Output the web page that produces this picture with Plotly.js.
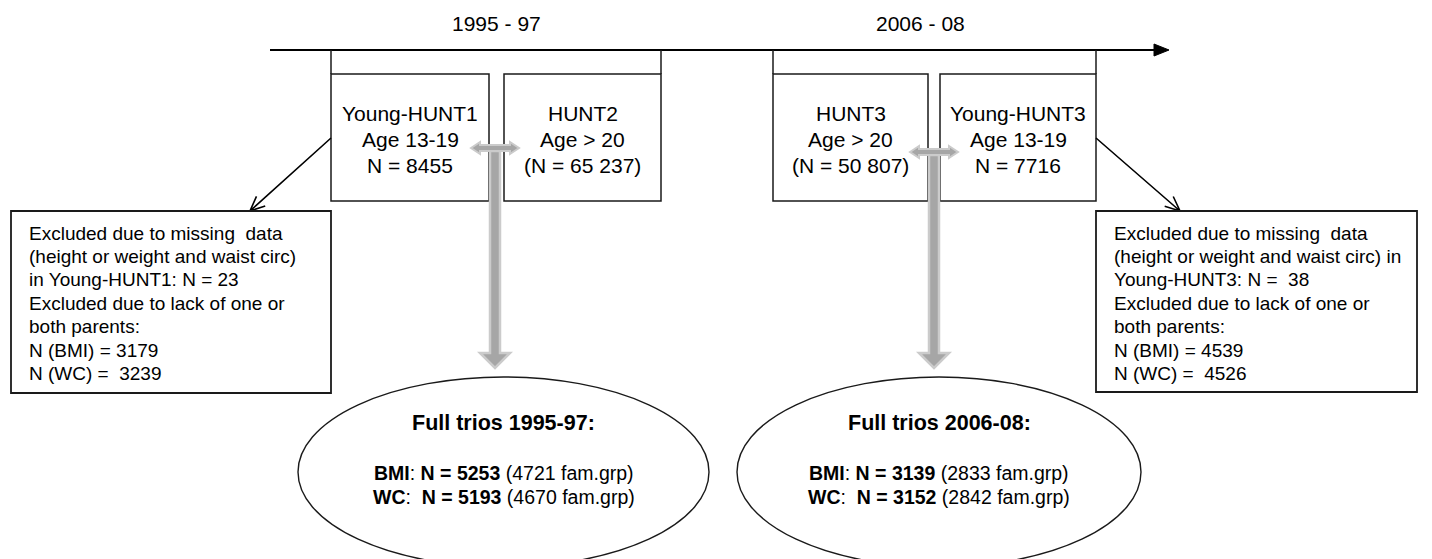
<!DOCTYPE html>
<html>
<head>
<meta charset="utf-8">
<script src="https://cdn.plot.ly/plotly-3.0.1.min.js"></script>
<style>html,body{margin:0;padding:0;background:#fff;}#chart{width:1432px;height:559px;}</style>
</head>
<body>
<div id="chart"></div>
<script>
// ---------- data (text and values) ----------
const periods = ['1995 - 97', '2006 - 08'];
const cohorts = ['Young-HUNT1', 'HUNT2', 'HUNT3', 'Young-HUNT3'];
const ages = ['Age 13-19', 'Age > 20', 'Age > 20', 'Age 13-19'];
const cohortN = ['N = 8455', '(N = 65 237)', '(N = 50 807)', 'N = 7716'];
const youngStudies = ['Young-HUNT1', 'Young-HUNT3'];
const excludedMissing = [23, 38];
const excludedBMI = [3179, 4539];
const excludedWC = [3239, 4526];
const trioPeriods = ['1995-97', '2006-08'];
const triosBMI = [5253, 3139];
const triosBMIfam = [4721, 2833];
const triosWC = [5193, 3152];
const triosWCfam = [4670, 2842];

// ---------- layout geometry (pixels) ----------
const W = 1432, H = 559;
const FONT = 'Liberation Sans, Arial, Helvetica, sans-serif';
const periodX = [496, 920];
const boxX = [[331, 489], [504, 661], [773, 928], [940, 1096]];
const boxY = [74, 201];
const boxLineY = [113, 139, 165];
const exclBox = [[11, 211, 331, 393], [1096, 211, 1417, 392]];
const exclTextX = [27, 1112];
const exclLineY0 = 233, exclLineDy = 23.4;
const ellX = [[298, 709], [737, 1141]];
const ellY = [377, 567];
const ellTextY = [423, 473, 497];
const grayX = [495, 934];
const grayHY = [148, 152];

const shapes = [];
const annotations = [];
const ink = '#1a1a1a';

// timeline
shapes.push({type: 'line', x0: 270, y0: 50, x1: 1156, y1: 50, line: {color: '#000', width: 2}});
shapes.push({type: 'path', path: 'M1154,44 L1169,50 L1154,56 Z', fillcolor: '#000', line: {color: '#000', width: 1}});
// brackets
[[boxX[0][0], boxX[1][1]], [boxX[2][0], boxX[3][1]]].forEach(function (b) {
  shapes.push({type: 'line', x0: b[0], y0: 50, x1: b[0], y1: boxY[0], line: {color: ink, width: 1.5}});
  shapes.push({type: 'line', x0: b[1], y0: 50, x1: b[1], y1: boxY[0], line: {color: ink, width: 1.5}});
});
// period labels
periods.forEach(function (p, i) {
  annotations.push({x: periodX[i], y: 23, text: p, showarrow: false, xanchor: 'center', yanchor: 'middle',
    font: {family: FONT, size: 21, color: '#000'}});
});
// cohort boxes
cohorts.forEach(function (c, i) {
  const bx = boxX[i];
  shapes.push({type: 'rect', x0: bx[0], y0: boxY[0], x1: bx[1], y1: boxY[1], fillcolor: '#fff', line: {color: ink, width: 1.5}});
  const cx = (bx[0] + bx[1]) / 2;
  [c, ages[i], cohortN[i]].forEach(function (t, k) {
    annotations.push({x: cx, y: boxLineY[k], text: t, showarrow: false, xanchor: 'center', yanchor: 'middle',
      font: {family: FONT, size: 21, color: '#000'}});
  });
});

// thin black arrows with open V head
function vArrow(x0, y0, x1, y1) {
  const dx = x1 - x0, dy = y1 - y0, len = Math.sqrt(dx * dx + dy * dy);
  const ux = dx / len, uy = dy / len, L = 16, a = 0.42;
  const c = Math.cos(a), s = Math.sin(a);
  const p1 = [x1 - L * (ux * c - uy * s), y1 - L * (ux * s + uy * c)];
  const p2 = [x1 - L * (ux * c + uy * s), y1 - L * (-ux * s + uy * c)];
  return 'M' + x0 + ',' + y0 + ' L' + x1 + ',' + y1 + ' M' + p1[0] + ',' + p1[1] + ' L' + x1 + ',' + y1 + ' L' + p2[0] + ',' + p2[1];
}
shapes.push({type: 'path', path: vArrow(331, 138, 250, 211), line: {color: '#000', width: 1.6}});
shapes.push({type: 'path', path: vArrow(1096, 138, 1180, 211), line: {color: '#000', width: 1.6}});

// excluded boxes
youngStudies.forEach(function (ys, i) {
  const b = exclBox[i];
  shapes.push({type: 'rect', x0: b[0], y0: b[1], x1: b[2], y1: b[3], fillcolor: '#fff', line: {color: ink, width: 1.8}});
  const lines = i === 0 ? [
    'Excluded due to missing\u00a0 data',
    '(height or weight and waist circ)',
    'in ' + ys + ': N = ' + excludedMissing[i],
    'Excluded due to lack of one or',
    'both parents:',
    'N (BMI) = ' + excludedBMI[i],
    'N (WC) =\u00a0 ' + excludedWC[i]
  ] : [
    'Excluded due to missing\u00a0 data',
    '(height or weight and waist circ) in',
    ys + ': N =\u00a0 ' + excludedMissing[i],
    'Excluded due to lack of one or',
    'both parents:',
    'N (BMI) = ' + excludedBMI[i],
    'N (WC) =\u00a0 ' + excludedWC[i]
  ];
  lines.forEach(function (t, k) {
    annotations.push({x: exclTextX[i], y: exclLineY0 + k * exclLineDy, text: t, showarrow: false,
      xanchor: 'left', yanchor: 'middle', font: {family: FONT, size: 19, color: '#000'}});
  });
});

// ellipses
trioPeriods.forEach(function (tp, i) {
  const ex = ellX[i];
  shapes.push({type: 'circle', x0: ex[0], y0: ellY[0], x1: ex[1], y1: ellY[1], fillcolor: '#fff', line: {color: ink, width: 1.4}});
  const cx = (ex[0] + ex[1]) / 2;
  const texts = [
    '<b>Full trios ' + tp + ':</b>',
    '<b>BMI</b>: <b>N = ' + triosBMI[i] + '</b> (' + triosBMIfam[i] + ' fam.grp)',
    '<b>WC</b>:\u00a0 <b>N = ' + triosWC[i] + '</b> (' + triosWCfam[i] + ' fam.grp)'
  ];
  texts.forEach(function (t, k) {
    annotations.push({x: cx, y: ellTextY[k], text: t, showarrow: false, xanchor: 'center', yanchor: 'middle',
      font: {family: FONT, size: k === 0 ? 21.5 : 19.5, color: '#000'}});
  });
});

// gray arrows
const gFill = '#a6a6a6', gLine = '#cbcbcb';
grayX.forEach(function (gx, i) {
  const hy = grayHY[i];
  // vertical shaft + head
  shapes.push({type: 'path',
    path: 'M' + (gx - 5) + ',' + (hy + 3) + ' L' + (gx + 5) + ',' + (hy + 3) + ' L' + (gx + 5) + ',353 L' + (gx + 15) + ',353 L' + gx + ',368 L' + (gx - 15) + ',353 L' + (gx - 5) + ',353 Z',
    fillcolor: gFill, line: {color: gLine, width: 2.5}});
  // horizontal double arrow
  const l = gx - 24, r = gx + 24;
  shapes.push({type: 'path',
    path: 'M' + l + ',' + hy + ' L' + (l + 9) + ',' + (hy - 6) + ' L' + (l + 9) + ',' + (hy - 3) + ' L' + (r - 9) + ',' + (hy - 3) +
      ' L' + (r - 9) + ',' + (hy - 6) + ' L' + r + ',' + hy + ' L' + (r - 9) + ',' + (hy + 6) + ' L' + (r - 9) + ',' + (hy + 3) +
      ' L' + (l + 9) + ',' + (hy + 3) + ' L' + (l + 9) + ',' + (hy + 6) + ' Z',
    fillcolor: gFill, line: {color: gLine, width: 2}});
});

const layout = {
  width: W, height: H,
  margin: {l: 0, r: 0, t: 0, b: 0, pad: 0},
  paper_bgcolor: '#fff', plot_bgcolor: '#fff',
  showlegend: false,
  xaxis: {range: [0, W], visible: false, fixedrange: true},
  yaxis: {range: [H, 0], visible: false, fixedrange: true},
  shapes: shapes,
  annotations: annotations
};
Plotly.newPlot('chart', [{x: [0], y: [0], mode: 'markers', marker: {opacity: 0}, hoverinfo: 'skip'}], layout, {displayModeBar: false, staticPlot: true});
</script>
</body>
</html>
